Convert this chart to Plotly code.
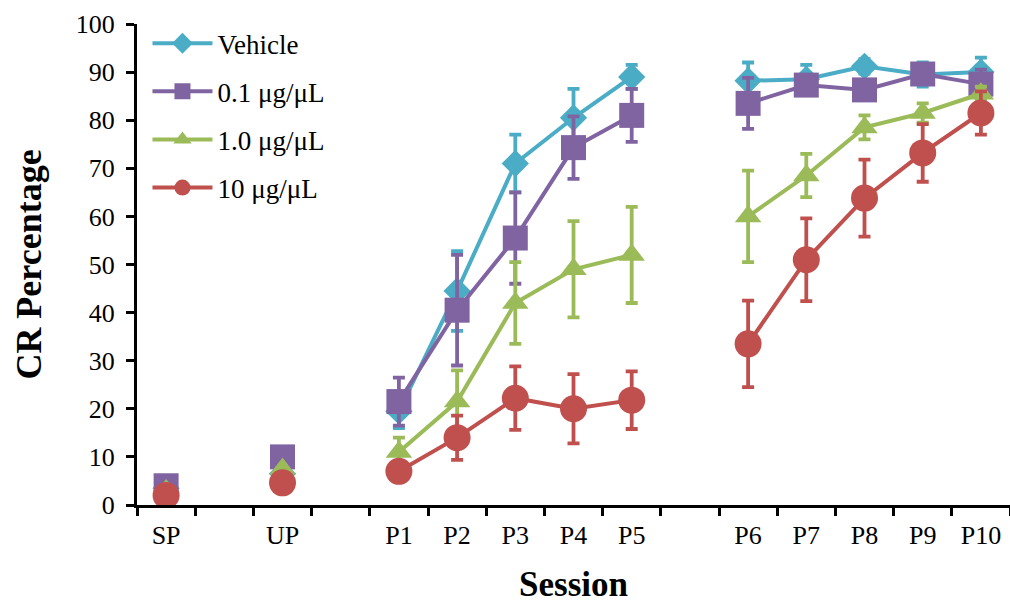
import plotly.graph_objects as go

# Slot layout of the x axis (empty strings are spacer slots)
slots = ["SP", "", "UP", "", "P1", "P2", "P3", "P4", "P5", "", "P6", "P7", "P8", "P9", "P10"]
sessions = ["SP", "UP", "P1", "P2", "P3", "P4", "P5", "P6", "P7", "P8", "P9", "P10"]

series_names = ["Vehicle", "0.1 μg/μL", "1.0 μg/μL", "10 μg/μL"]

vehicle = [3.5, 6.5, 19.5, 44.5, 71, 80.5, 89, 88.2, 88.5, 91.2, 89.5, 90]
vehicle_err = [None, None, 3.5, 8.3, 6, 6, 2.5, 3.8, 3, 1.5, 2.5, 3]

dose01 = [4, 10, 21.5, 40.5, 55.5, 74.3, 81, 83.5, 87.3, 86.3, 89.6, 87.5]
dose01_err = [None, None, 5, 11.5, 9.5, 6.5, 5.5, 5.3, 2, 1.5, 1.5, 3]

dose10 = [3, 7.5, 11, 21.5, 42, 49, 52, 60, 68.5, 78.5, 81.5, 85.5]
dose10_err = [None, None, 3, 6.5, 8.5, 10, 10, 9.5, 4.5, 2.5, 2, 1.5]

dose100 = [2, 4.6, 7, 14, 22.2, 20, 21.8, 33.5, 51, 63.8, 73.2, 81.5]
dose100_err = [None, None, 1, 4.6, 6.6, 7.2, 6, 9, 8.6, 8, 6, 4.5]

colors = ["#4BACC6", "#8064A2", "#9BBB59", "#C0504D"]
symbols = ["diamond", "square", "triangle-up", "circle"]
sizes = [21, 25, 23, 27]

FONT = "Liberation Serif"


def expand(vals):
    out = []
    it = iter(vals)
    for s in slots:
        out.append(next(it) if s else None)
    return out


xpos = list(range(len(slots)))

fig = go.Figure()
all_vals = [vehicle, dose01, dose10, dose100]
all_errs = [vehicle_err, dose01_err, dose10_err, dose100_err]
for i, name in enumerate(series_names):
    errs = [e if e is not None else 0 for e in expand(all_errs[i])]
    fig.add_trace(go.Scatter(
        x=xpos, y=expand(all_vals[i]), name=name, mode="lines+markers",
        connectgaps=False, legendgroup=name,
        line=dict(color=colors[i], width=4),
        marker=dict(symbol=symbols[i], size=sizes[i], color=colors[i],
                    line=dict(width=0)),
        error_y=dict(type="data", array=errs, visible=True, color=colors[i],
                     thickness=3.8, width=6),
    ))

label_pos = [i for i, s in enumerate(slots) if s]
label_txt = [s for s in slots if s]

fig.update_layout(
    width=1010, height=604,
    margin=dict(l=137, r=0, t=24, b=99),
    paper_bgcolor="white", plot_bgcolor="white",
    font=dict(family=FONT, color="black"),
    showlegend=True,
    legend=dict(x=0.012, y=1.01, xanchor="left", yanchor="top",
                font=dict(family=FONT, size=27, color="black"),
                bgcolor="rgba(0,0,0,0)", traceorder="grouped",
                tracegroupgap=10, itemwidth=60),
    xaxis=dict(
        automargin=False,
        range=[-0.5, len(slots) - 0.5],
        tickmode="array", tickvals=label_pos, ticktext=label_txt,
        ticks="", ticklen=0, ticklabelstandoff=5,
        minor=dict(tickmode="linear", tick0=-0.5, dtick=1, ticks="outside",
                   ticklen=8, tickwidth=3, tickcolor="black", showgrid=False),
        showline=True, linecolor="black", linewidth=3,
        showgrid=False, zeroline=False,
        tickfont=dict(family=FONT, size=26, color="black"),
        title=dict(text="<b>Session</b>", font=dict(family=FONT, size=35, color="black"),
                   standoff=38),
    ),
    yaxis=dict(
        automargin=False,
        range=[0, 100], tickmode="linear", tick0=0, dtick=10,
        ticks="outside", ticklen=8, tickwidth=3, tickcolor="black",
        ticklabelstandoff=6,
        showline=True, linecolor="black", linewidth=3,
        showgrid=False, zeroline=False,
        tickfont=dict(family=FONT, size=26, color="black"),
        title=dict(text="<b>CR Percentage</b>", font=dict(family=FONT, size=36, color="black"),
                   standoff=24),
    ),
)

fig.write_html("out.html")
